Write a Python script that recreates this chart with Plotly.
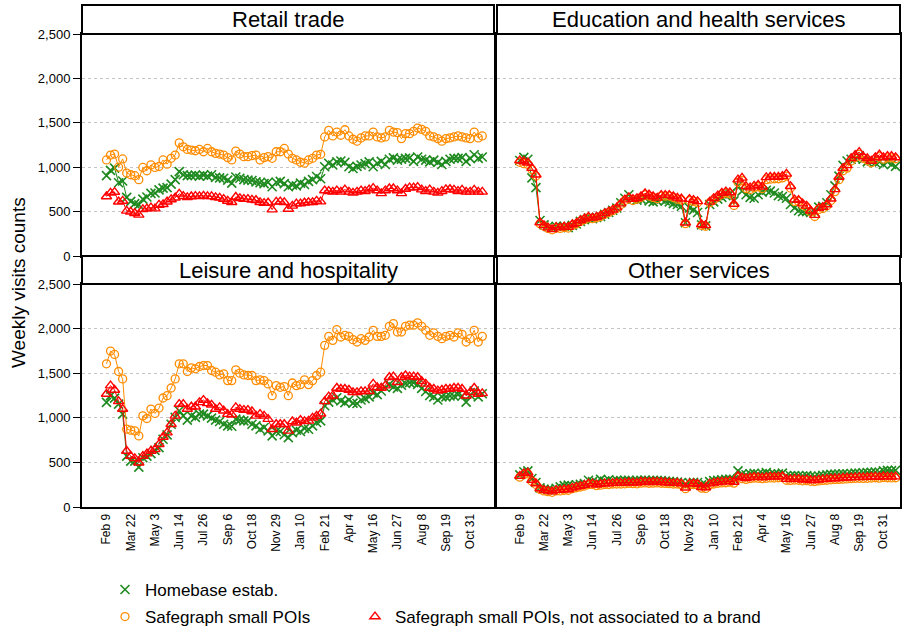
import pandas as pd
import plotly.graph_objects as go

# ---------------- data ----------------
start = "2020-02-09"
n_weeks = 94
tick_labels = ["Feb 9", "Mar 22", "May 3", "Jun 14", "Jul 26", "Sep 6", "Oct 18", "Nov 29",
               "Jan 10", "Feb 21", "Apr 4", "May 16", "Jun 27", "Aug 8", "Sep 19", "Oct 31"]
panel_titles = ["Retail trade", "Education and health services",
                "Leisure and hospitality", "Other services"]
series_names = ["Homebase estab.", "Safegraph small POIs",
                "Safegraph small POIs, not associated to a brand"]

retail_homebase = [905, 965, 990, 825, 845, 660, 615, 590, 575, 640, 665, 705, 710, 745, 765, 770, 810, 860,
                   950, 915, 905, 905, 910, 900, 910, 900, 915, 885, 880, 875, 855, 820,
                   890, 875, 860, 855, 850, 835, 825, 815, 830, 780, 830, 840, 815, 780, 800,
                   790, 820, 805, 840, 860, 895, 870,
                   1005, 1045, 1025, 1060, 1070, 1055, 1005, 985, 1010, 1025, 1040, 1060, 1005, 1045, 1065,
                   1030, 1090, 1105, 1080, 1090, 1100, 1105, 1065, 1115, 1090, 1080, 1060, 1080, 1055, 1030,
                   1065, 1090, 1100, 1100, 1108, 1065, 1100, 1140, 1100, 1115]
retail_sg = [1082, 1137, 1148, 1000, 1093, 934, 915, 904, 860, 997, 960, 1026, 997, 1008, 1082, 1034, 1100, 1137,
             1274, 1230, 1200, 1193, 1185, 1200, 1174, 1211, 1174, 1156, 1148, 1137, 1108, 1082,
             1182, 1148, 1119, 1119, 1130, 1137, 1082, 1108, 1119, 1100, 1174, 1174, 1211, 1148, 1100,
             1082, 1056, 1045, 1082, 1100, 1137, 1145,
             1341, 1415, 1352, 1396, 1360, 1422, 1352, 1315, 1293, 1330, 1352, 1352, 1396, 1341, 1330,
             1341, 1415, 1396, 1389, 1322, 1378, 1378, 1404, 1441, 1426, 1404, 1352, 1341, 1322, 1293,
             1322, 1330, 1341, 1352, 1341, 1330, 1322, 1396, 1330, 1352]
retail_sg_nobrand = [670, 711, 720, 611, 620, 508, 497, 482, 463, 526, 534, 545, 534, 575, 582, 611, 637, 656,
                     700, 674, 660, 670, 675, 672, 678, 672, 672, 660, 655, 640, 620, 605,
                     665, 650, 640, 640, 632, 628, 605, 595, 600, 522, 610, 612, 605, 530, 565,
                     590, 590, 600, 605, 605, 620, 612,
                     737, 730, 722, 737, 722, 748, 722, 711, 722, 737, 730, 748, 765, 737, 705,
                     737, 760, 760, 737, 705, 755, 770, 770, 775, 748, 730, 748, 722, 711, 730,
                     750, 752, 745, 730, 745, 722, 722, 745, 722, 722]

edu_homebase = [1075, 1110, 1090, 880, 770, 400, 350, 330, 315, 335,
                330, 335, 320, 345, 360, 390, 410, 430, 420, 435,
                445, 470, 490, 515, 540, 600, 650, 690, 640, 630,
                640, 650, 620, 610, 620, 640, 620, 610, 590, 580,
                560, 375, 540, 520, 490, 350, 340, 580, 610, 640,
                660, 680, 700, 620, 790, 730, 690, 660, 650, 690,
                720, 740, 730, 710, 680, 670, 650, 580, 540, 510,
                500, 500, 490, 500, 550, 560, 600, 690, 790, 900,
                1020, 1070, 1090, 1100, 1130, 1090, 1060, 1070, 1050, 1060,
                1030, 1060, 1030, 1010]
edu_sg = [1055, 1040, 1030, 975, 900, 365, 335, 310, 295, 315,
          310, 320, 315, 345, 360, 390, 410, 430, 420, 430,
          445, 470, 490, 510, 535, 580, 625, 650, 625, 640,
          660, 690, 675, 660, 645, 675, 675, 675, 660, 640,
          630, 365, 625, 615, 600, 345, 335, 600, 635, 665,
          695, 710, 700, 570, 830, 850, 760, 750, 770, 780,
          760, 860, 865, 870, 870, 880, 900, 765, 615, 615,
          575, 550, 495, 445, 525, 535, 565, 625, 725, 860,
          960, 990, 1070, 1110, 1145, 1100, 1080, 1050, 1090, 1120,
          1090, 1105, 1105, 1095]
edu_sg_nobrand = [1075, 1065, 1050, 990, 915, 378, 345, 320, 300, 325,
                  320, 330, 325, 355, 370, 400, 420, 440, 430, 440,
                  455, 480, 500, 520, 545, 590, 635, 660, 640, 650,
                  670, 705, 690, 670, 655, 685, 685, 685, 670, 655,
                  645, 375, 640, 630, 615, 355, 345, 610, 650, 680,
                  710, 725, 715, 585, 860, 880, 785, 770, 790, 800,
                  780, 885, 890, 890, 890, 900, 925, 785, 635, 630,
                  590, 565, 510, 460, 540, 550, 580, 645, 750, 890,
                  990, 1020, 1100, 1135, 1170, 1120, 1100, 1070, 1110, 1140,
                  1110, 1125, 1125, 1110]

leisure_homebase = [1173, 1248, 1220, 1154, 1041, 571, 515, 515, 447, 552, 571, 598, 635, 665, 759, 808, 928, 1004,
                    1079, 1022, 974, 1022, 1004, 1041, 1041, 1022, 996, 974, 959, 928, 910, 905,
                    985, 974, 966, 966, 928, 910, 872, 891, 853, 797, 846, 846, 810, 778, 834,
                    860, 846, 880, 872, 910, 947, 965,
                    1135, 1175, 1200, 1225, 1190, 1170, 1200, 1165, 1160, 1200, 1215, 1235, 1280, 1260, 1300,
                    1340, 1375, 1345, 1330, 1365, 1385, 1395, 1395, 1375, 1330, 1295, 1250, 1235, 1200, 1235,
                    1235, 1245, 1245, 1260, 1245, 1175, 1255, 1300, 1235, 1270]
leisure_sg = [1605, 1748, 1710, 1519, 1436, 872, 861, 853, 797, 1022, 992, 1098, 1049, 1109, 1222, 1248, 1334, 1436,
              1605, 1605, 1519, 1560, 1549, 1575, 1586, 1586, 1530, 1511, 1481, 1492, 1417, 1417,
              1538, 1500, 1481, 1474, 1474, 1417, 1425, 1417, 1380, 1248, 1361, 1342, 1350, 1248, 1390,
              1361, 1372, 1425, 1372, 1417, 1474, 1511,
              1812, 1913, 1868, 1989, 1906, 1925, 1913, 1876, 1850, 1887, 1868, 1906, 1981, 1913, 1913,
              1925, 2026, 2056, 1962, 1962, 2026, 2038, 2038, 2064, 2026, 1981, 1925, 1951, 1913, 1887,
              1913, 1925, 1906, 1951, 1936, 1850, 1887, 1981, 1850, 1913]
leisure_sg_nobrand = [1267, 1361, 1312, 1184, 1098, 628, 571, 545, 496, 571, 598, 628, 646, 703, 785, 834, 928, 1022,
                      1154, 1154, 1098, 1124, 1124, 1173, 1199, 1162, 1146, 1098, 1117, 1079, 1041, 1035,
                      1117, 1098, 1087, 1087, 1071, 1022, 1041, 1022, 985, 872, 928, 928, 928, 853, 959,
                      945, 975, 960, 965, 1000, 1020, 1045,
                      1184, 1237, 1248, 1334, 1323, 1323, 1312, 1286, 1286, 1297, 1297, 1297, 1380, 1342, 1334,
                      1361, 1455, 1462, 1398, 1455, 1474, 1462, 1462, 1455, 1410, 1380, 1334, 1323, 1304, 1312,
                      1323, 1323, 1334, 1334, 1323, 1248, 1286, 1334, 1267, 1274]

other_homebase = [360, 395, 405, 320, 275, 215, 200, 195, 190, 210,
                  225, 240, 245, 235, 250, 255, 262, 300, 285, 278,
                  310, 290, 305, 292, 300, 295, 298, 300, 290, 298,
                  300, 302, 295, 300, 298, 295, 290, 288, 285, 280,
                  275, 240, 270, 278, 275, 250, 248, 285, 295, 300,
                  305, 310, 312, 308, 405, 370, 362, 372, 378, 365,
                  375, 385, 370, 368, 372, 380, 350, 350, 352, 350,
                  348, 352, 345, 340, 348, 355, 360, 365, 368, 370,
                  372, 368, 375, 380, 378, 382, 385, 388, 392, 390,
                  405, 410, 408, 412]
other_sg = [335, 365, 372, 290, 252, 198, 180, 172, 165, 180,
            180, 188, 188, 205, 216, 224, 235, 250, 252, 240,
            245, 252, 252, 258, 258, 258, 260, 264, 262, 260,
            268, 270, 266, 268, 270, 266, 264, 262, 258, 258,
            250, 205, 250, 252, 246, 212, 208, 250, 258, 266,
            270, 272, 278, 268, 330, 318, 310, 318, 325, 322,
            318, 322, 326, 325, 328, 330, 300, 298, 302, 300,
            294, 296, 288, 286, 292, 298, 300, 305, 308, 310,
            312, 315, 318, 320, 322, 320, 322, 325, 328, 324,
            330, 328, 326, 328]
other_sg_nobrand = [347, 377, 385, 302, 264, 207, 189, 181, 172, 189,
                    189, 196, 196, 215, 226, 234, 245, 262, 262, 250,
                    256, 264, 262, 268, 270, 268, 270, 275, 272, 270,
                    280, 282, 278, 280, 282, 278, 275, 272, 268, 270,
                    262, 215, 262, 264, 258, 222, 218, 262, 270, 278,
                    282, 285, 290, 280, 345, 330, 322, 330, 338, 335,
                    330, 335, 340, 338, 340, 342, 312, 310, 315, 312,
                    305, 308, 300, 298, 305, 310, 312, 318, 320, 322,
                    325, 328, 330, 332, 335, 332, 335, 338, 340, 335,
                    342, 340, 338, 340]

panels = [
    (retail_homebase, retail_sg, retail_sg_nobrand),
    (edu_homebase, edu_sg, edu_sg_nobrand),
    (leisure_homebase, leisure_sg, leisure_sg_nobrand),
    (other_homebase, other_sg, other_sg_nobrand),
]
for p in panels:
    for s in p:
        assert len(s) == n_weeks, len(s)

# ---------------- styling ----------------
dates = pd.date_range(start, periods=n_weeks, freq="7D")
tick_vals = list(dates[::6])
GREEN, ORANGE, RED = "#1f8a1f", "#ff8c00", "#ff0000"
colors = [GREEN, ORANGE, RED]
markers = [
    dict(symbol="x-thin", size=9, color=GREEN, line=dict(width=1.6, color=GREEN)),
    dict(symbol="circle-open", size=8, color=ORANGE, line=dict(width=1.3)),
    dict(symbol="triangle-up-open", size=9, color=RED, line=dict(width=1.4)),
]
FONT = "Liberation Sans, Arial, sans-serif"

W, H = 902, 633
ML, MR, MT, MB = 82, 2, 5, 126
pw, ph = W - ML - MR, H - MT - MB


def px_x(px):
    return (px - ML) / pw


def px_y(py):
    return (H - MB - py) / ph


x_dom_left = [0, px_x(494)]
x_dom_right = [px_x(497), 1]
y_dom_top = [px_y(256), px_y(34)]
y_dom_bot = [0, px_y(284)]
strip_top = [px_y(34), px_y(5)]
strip_bot = [px_y(284), px_y(256)]

week = pd.Timedelta(days=7)
d0 = dates[0]
range_left = [d0 - 6.06 * week, d0 + 95.9 * week]
range_right = [d0 - 5.64 * week, d0 + 94.1 * week]

fig = go.Figure()
axis_ids = ["", "2", "3", "4"]
for k, p in enumerate(panels):
    ax = axis_ids[k]
    for j, s in enumerate(p):
        fig.add_trace(go.Scatter(
            x=dates, y=s, mode="lines+markers",
            line=dict(color=colors[j], width=1),
            marker=markers[j], showlegend=False,
            xaxis="x" + ax, yaxis="y" + ax, cliponaxis=True,
        ))

# legend-only entries
legend_ids = ["legend", "legend2", "legend3"]
for j in range(3):
    fig.add_trace(go.Scatter(
        x=[None], y=[None], mode="markers", marker=markers[j],
        name=series_names[j], showlegend=True, legend=legend_ids[j],
    ))

common_x = dict(type="date", showline=True, mirror=True, linecolor="black", linewidth=2,
                showgrid=False, zeroline=False, tickvals=tick_vals, ticktext=tick_labels,
                tickangle=-90, tickfont=dict(size=12, color="black", family=FONT), ticks="",
                automargin=False)
common_y = dict(range=[0, 2500], showline=True, mirror=True, linecolor="black", linewidth=2,
                showgrid=True, gridcolor="#c4c4c4", griddash="dot", gridwidth=1, zeroline=False,
                tickvals=[0, 500, 1000, 1500, 2000, 2500], tickformat=",d",
                tickfont=dict(size=13, color="black", family=FONT), automargin=False)

layout = dict(
    width=W, height=H, margin=dict(l=ML, r=MR, t=MT, b=MB, autoexpand=False),
    plot_bgcolor="white", paper_bgcolor="white",
    font=dict(family=FONT, color="black"),
    xaxis=dict(common_x, domain=x_dom_left, anchor="y", range=range_left, showticklabels=False),
    yaxis=dict(common_y, domain=y_dom_top, anchor="x", ticks="outside", ticklen=7, tickcolor="black"),
    xaxis2=dict(common_x, domain=x_dom_right, anchor="y2", range=range_right, showticklabels=False),
    yaxis2=dict(common_y, domain=y_dom_top, anchor="x2", showticklabels=False, ticks=""),
    xaxis3=dict(common_x, domain=x_dom_left, anchor="y3", range=range_left, showticklabels=True),
    yaxis3=dict(common_y, domain=y_dom_bot, anchor="x3", ticks="outside", ticklen=7, tickcolor="black"),
    xaxis4=dict(common_x, domain=x_dom_right, anchor="y4", range=range_right, showticklabels=True),
    yaxis4=dict(common_y, domain=y_dom_bot, anchor="x4", showticklabels=False, ticks=""),
)

leg_common = dict(orientation="h", bgcolor="rgba(0,0,0,0)", borderwidth=0,
                  font=dict(size=17, family=FONT, color="black"),
                  xanchor="left", yanchor="middle", itemsizing="trace")
layout["legend"] = dict(leg_common, x=px_x(105), y=px_y(590))
layout["legend2"] = dict(leg_common, x=px_x(105), y=px_y(617))
layout["legend3"] = dict(leg_common, x=px_x(355), y=px_y(617))

fig.update_layout(**layout)

# strips
strips = [(x_dom_left, strip_top), (x_dom_right, strip_top),
          (x_dom_left, strip_bot), (x_dom_right, strip_bot)]
for k, (xd, yd) in enumerate(strips):
    fig.add_shape(type="rect", xref="paper", yref="paper", x0=xd[0], x1=xd[1], y0=yd[0], y1=yd[1],
                  line=dict(color="black", width=2), fillcolor="white", layer="above")
    fig.add_annotation(xref="paper", yref="paper", x=(xd[0] + xd[1]) / 2, y=(yd[0] + yd[1]) / 2,
                       text=panel_titles[k], showarrow=False, xanchor="center", yanchor="middle",
                       font=dict(size=22, family=FONT, color="black"))

fig.add_annotation(xref="paper", yref="paper", x=px_x(18), y=px_y(283), text="Weekly visits counts",
                   textangle=-90, showarrow=False, xanchor="center", yanchor="middle",
                   font=dict(size=19, family=FONT, color="black"))

# remove the default page margin so the 902x633 figure fills the window exactly
fig.write_html("out.html", config={"displayModeBar": False},
               post_script="document.body.style.margin='0px';")
